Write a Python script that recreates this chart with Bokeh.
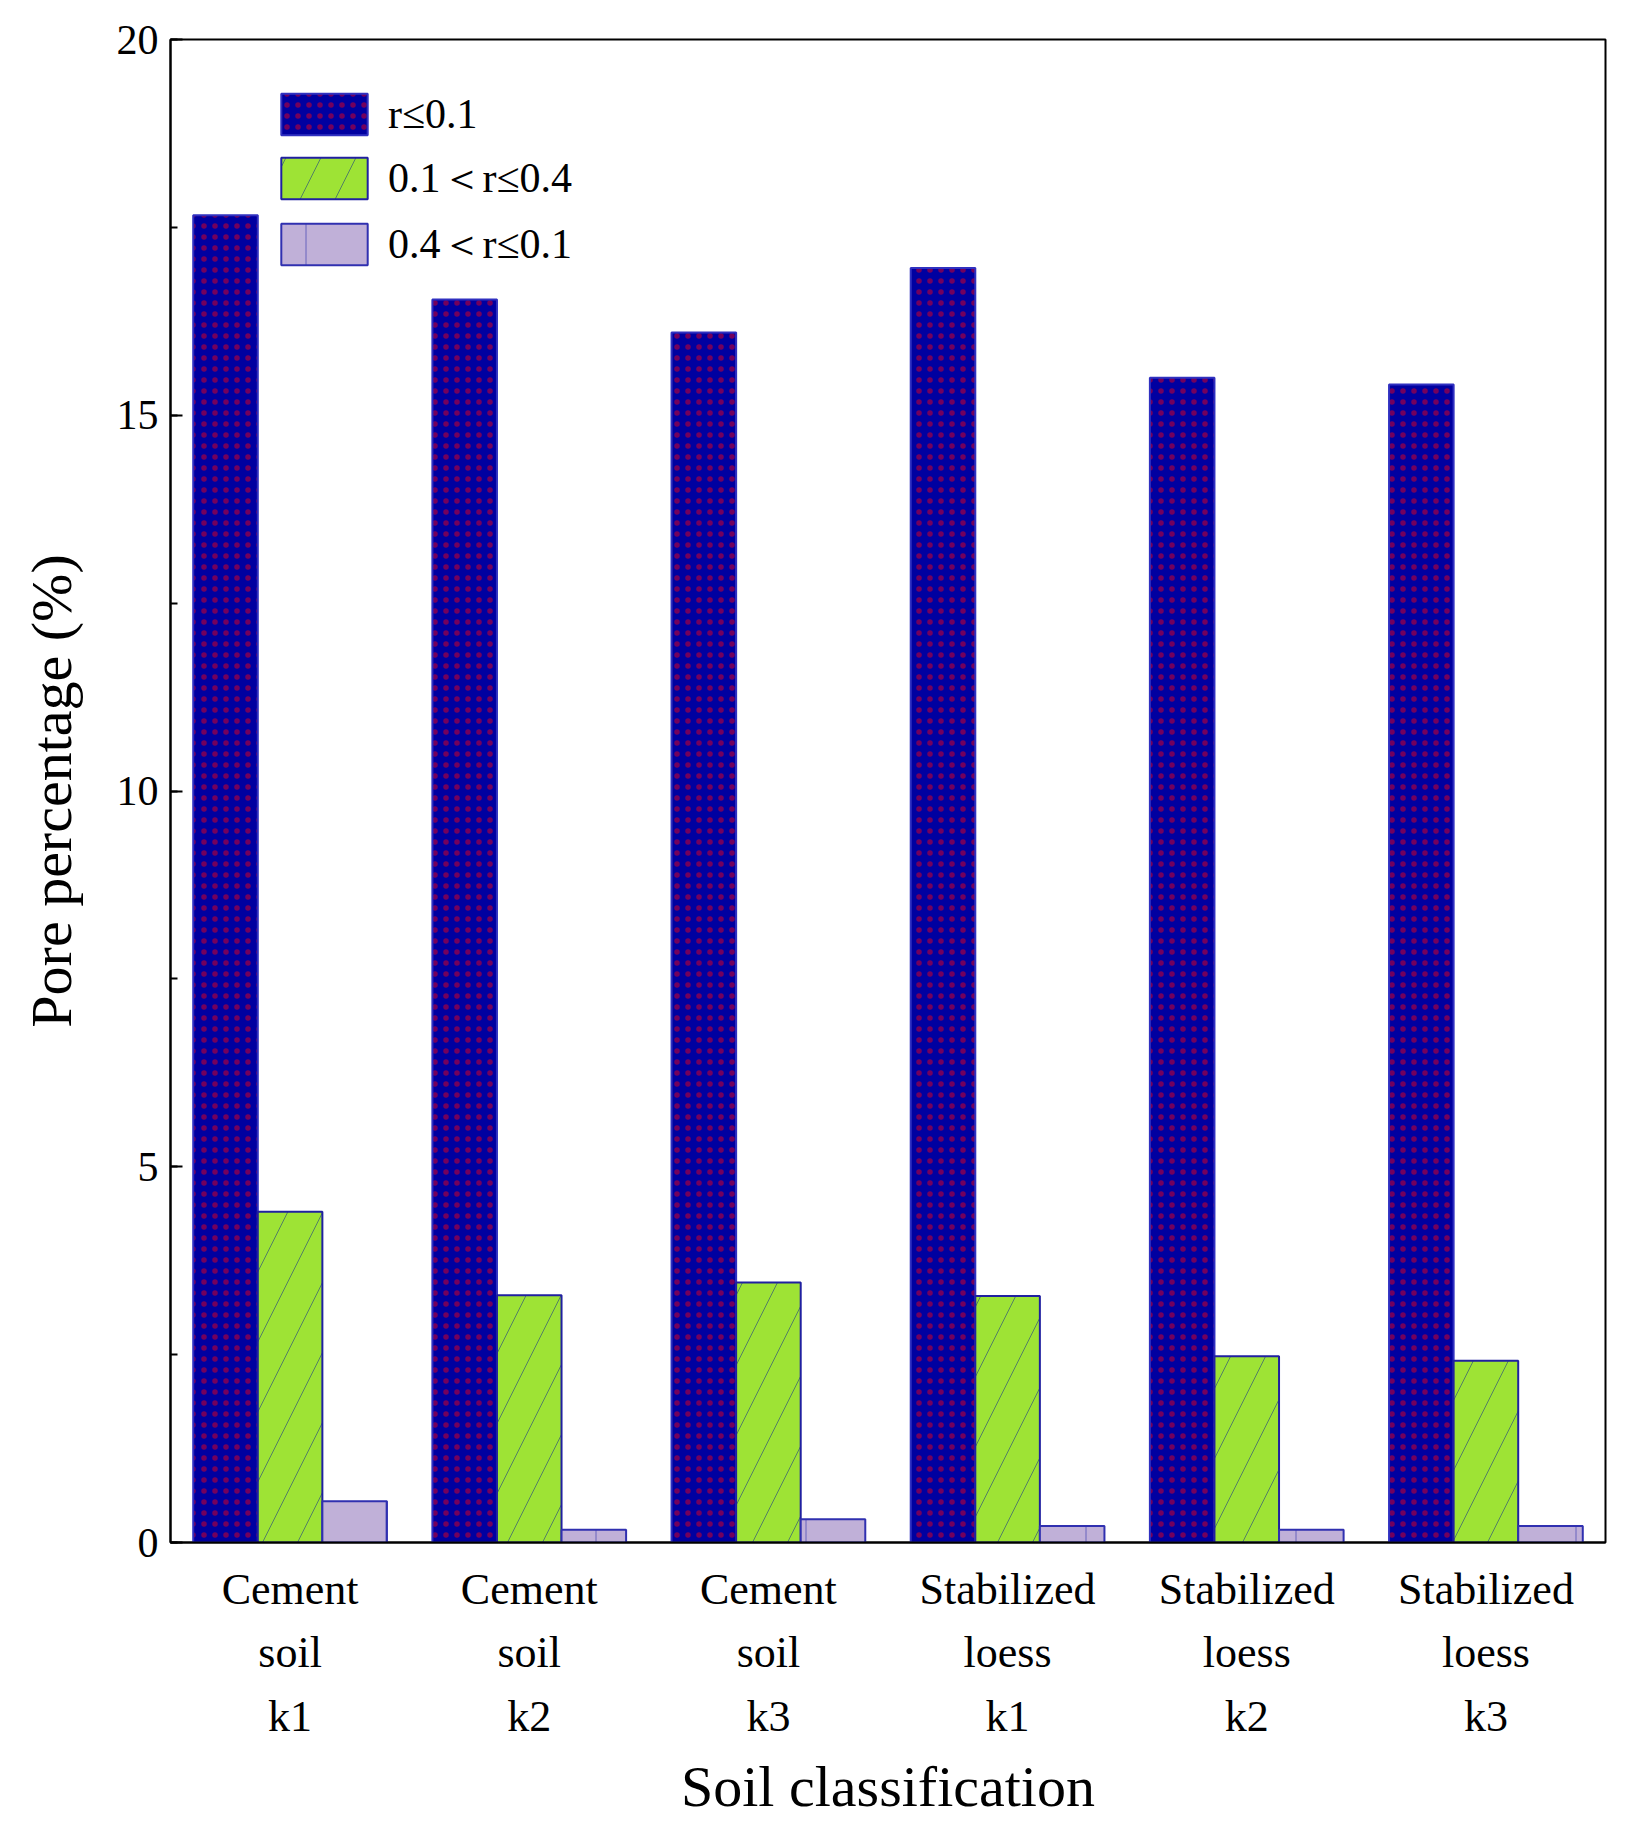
from bokeh.plotting import figure
from bokeh.models import ColumnDataSource, Legend, LegendItem, SingleIntervalTicker, FixedTicker, Range1d
from bokeh.transform import dodge
from bokeh.embed import file_html
from bokeh.resources import INLINE

categories = ["Cement\nsoil\nk1", "Cement\nsoil\nk2", "Cement\nsoil\nk3",
              "Stabilized\nloess\nk1", "Stabilized\nloess\nk2", "Stabilized\nloess\nk3"]
small = [17.66, 16.54, 16.1, 16.96, 15.5, 15.41]
medium = [4.4, 3.29, 3.46, 3.28, 2.48, 2.42]
large = [0.55, 0.17, 0.31, 0.22, 0.17, 0.22]
series_names = ["r≤0.1", "0.1＜r≤0.4", "0.4＜r≤0.1"]

FONT = "Liberation Serif"
p = figure(width=1621, height=1821, output_backend="svg", toolbar_location=None,
           x_range=Range1d(0, 6), y_range=Range1d(0, 20),
           min_border_left=170, min_border_top=39, min_border_right=16, min_border_bottom=266)
p.grid.visible = False
p.outline_line_color = "black"
p.outline_line_width = 2

xs = [i + 0.5 for i in range(6)]
w = 0.27
src = ColumnDataSource(dict(x=xs, small=small, medium=medium, large=large))
r1 = p.vbar(x=dodge("x", -w, range=p.x_range), top="small", width=w, source=src,
            fill_color="#0000A0", line_color="#3030C0", line_width=2,
            hatch_pattern="dot", hatch_color="#C00030", hatch_scale=11, hatch_alpha=0.6)
r2 = p.vbar(x="x", top="medium", width=w, source=src,
            fill_color="#9EE335", line_color="#2020A0", line_width=2,
            hatch_pattern="right_diagonal_line", hatch_color="#204080", hatch_scale=70, hatch_weight=1, hatch_alpha=0.6)
r3 = p.vbar(x=dodge("x", w, range=p.x_range), top="large", width=w, source=src,
            fill_color="#C0B0D8", line_color="#3030B0", line_width=2,
            hatch_pattern="vertical_line", hatch_color="#4040B0", hatch_scale=70, hatch_weight=1, hatch_alpha=0.7)

legend = Legend(items=[LegendItem(label=series_names[0], renderers=[r1]),
                       LegendItem(label=series_names[1], renderers=[r2]),
                       LegendItem(label=series_names[2], renderers=[r3])],
                location=(100, 1270), glyph_width=108, glyph_height=52, spacing=10,
                label_text_font=FONT, label_text_font_size="42px", label_text_color="black",
                border_line_alpha=0, background_fill_alpha=0, padding=0, margin=0,
                label_standoff=10, label_height=52)
p.add_layout(legend, "center")

p.yaxis.ticker = SingleIntervalTicker(interval=5, num_minor_ticks=2)
p.yaxis.major_tick_in = 12
p.yaxis.major_tick_out = 0
p.yaxis.minor_tick_in = 7
p.yaxis.minor_tick_out = 0
p.yaxis.axis_line_width = 2
p.yaxis.major_tick_line_width = 2
p.yaxis.minor_tick_line_width = 2
p.yaxis.major_label_text_font = FONT
p.yaxis.major_label_text_font_size = "42px"
p.yaxis.major_label_text_color = "black"
p.yaxis.major_label_standoff = 12
p.yaxis.axis_label = "Pore percentage (%)"
p.yaxis.axis_label_text_font = FONT
p.yaxis.axis_label_text_font_size = "58px"
p.yaxis.axis_label_text_font_style = "normal"
p.yaxis.axis_label_text_color = "black"
p.yaxis.axis_label_standoff = 30

p.xaxis.ticker = FixedTicker(ticks=xs)
p.xaxis.major_label_overrides = {x: c for x, c in zip(xs, categories)}
p.xaxis.major_tick_line_color = None
p.xaxis.minor_tick_line_color = None
p.xaxis.axis_line_width = 2
p.xaxis.major_label_text_font = FONT
p.xaxis.major_label_text_font_size = "44px"
p.xaxis.major_label_text_color = "black"
p.xaxis.major_label_text_line_height = 1.3
p.xaxis.major_label_standoff = 16
p.xaxis.axis_label = "Soil classification"
p.xaxis.axis_label_text_font = FONT
p.xaxis.axis_label_text_font_size = "58px"
p.xaxis.axis_label_text_font_style = "normal"
p.xaxis.axis_label_text_color = "black"
p.xaxis.axis_label_standoff = 10

open("out.html", "w").write(file_html(p, INLINE))
